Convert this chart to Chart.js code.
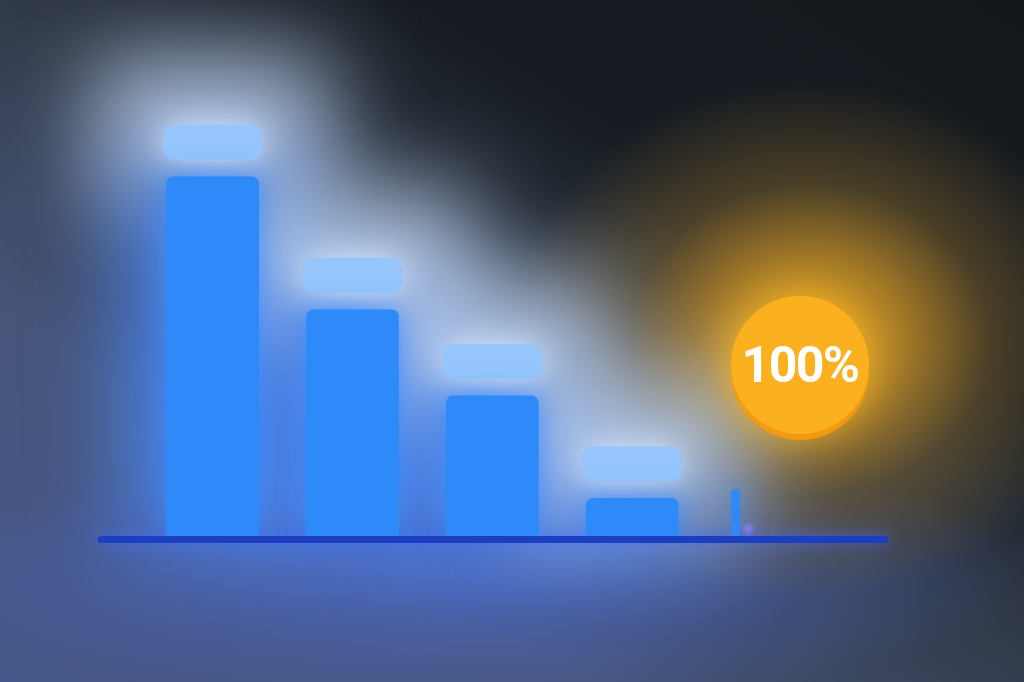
<!DOCTYPE html>
<html>
<head>
<meta charset="utf-8">
<script src="https://cdn.jsdelivr.net/npm/chart.js@4"></script>
<style>
  html, body { margin: 0; padding: 0; }
  body {
    width: 1024px;
    height: 682px;
    overflow: hidden;
    position: relative;
    background:
      radial-gradient(circle at 748px 529px, rgba(170, 100, 255, 0.9) 0, rgba(170, 100, 255, 0) 8px),
      radial-gradient(ellipse 300px 260px at 810px 340px, rgba(245, 175, 35, 0.95) 0, rgba(215, 155, 40, 0.75) 30%, rgba(150, 115, 45, 0.4) 60%, rgba(90, 80, 60, 0) 100%),
      radial-gradient(ellipse 560px 130px at 480px 575px, rgba(80, 115, 235, 0.55) 0, rgba(80, 115, 235, 0) 100%),
      linear-gradient(212deg, #13171c 0%, #181d23 30%, #333c4c 50%, #47557a 72%, #45568a 100%);
  }
  #wrap { position: absolute; left: 0; top: 0; width: 1024px; height: 682px; }
  #badge {
    position: absolute;
    left: 731px;
    top: 296px;
    width: 138px;
    height: 138px;
    border-radius: 50%;
    background: #fbb020;
    box-shadow: 0 6px 0 #f29a12, 0 0 40px rgba(255, 190, 40, 0.8);
    display: flex;
    align-items: center;
    justify-content: center;
    color: #ffffff;
    font-family: Roboto, "Noto Sans", sans-serif;
    font-weight: 700;
    font-size: 50px;
    letter-spacing: -1.5px;
  }
</style>
</head>
<body>
<div id="wrap"><canvas id="chart" width="1024" height="682"></canvas></div>
<div id="badge">100%</div>
<script>
// Bar positions along the baseline and heights (share of the tallest bar)
const stagePositions = [0, 1, 2, 3];
const stageValues = [100, 63, 39, 10.5];
const markerPosition = [3.74];
const markerValue = [13];
const badgeLabel = '100%';

document.getElementById('badge').textContent = badgeLabel;

const barBlue = '#2d8af8';
const pillBlue = '#95c5fb';
const baseBlue = '#1c3fbf';

// haze behind bars, light pills above them, rounded baseline
const glowPlugin = {
  id: 'glow',
  beforeDatasetsDraw(chart) {
    const ctx = chart.ctx;
    const meta = chart.getDatasetMeta(0);
    const area = chart.chartArea;

    ctx.save();
    ctx.filter = 'blur(45px)';
    meta.data.forEach((bar) => {
      ctx.fillStyle = 'rgba(200, 220, 250, 0.8)';
      ctx.fillRect(bar.x - bar.width / 2 - 70, bar.y - 120, bar.width + 140, 150);
      ctx.fillStyle = 'rgba(75, 140, 255, 0.85)';
      ctx.fillRect(bar.x - bar.width / 2 - 40, bar.y - 10, bar.width + 80, area.bottom - bar.y + 15);
    });
    ctx.restore();

    ctx.save();
    meta.data.forEach((bar) => {
      const w = bar.width + 8;
      ctx.shadowColor = 'rgba(225, 238, 255, 1)';
      ctx.shadowBlur = 35;
      ctx.fillStyle = pillBlue;
      ctx.beginPath();
      ctx.roundRect(bar.x - w / 2, bar.y - 52, w, 35, 12);
      ctx.fill();
    });
    ctx.restore();

    ctx.save();
    ctx.strokeStyle = baseBlue;
    ctx.lineWidth = 7;
    ctx.lineCap = 'round';
    ctx.shadowColor = 'rgba(70, 110, 255, 0.8)';
    ctx.shadowBlur = 16;
    ctx.beginPath();
    ctx.moveTo(area.left + 3, area.bottom + 3.5);
    ctx.lineTo(area.right - 3, area.bottom + 3.5);
    ctx.stroke();
    ctx.restore();

    ctx.save();
    ctx.shadowColor = 'rgba(60, 140, 255, 0.8)';
    ctx.shadowBlur = 26;
  },
  afterDatasetsDraw(chart) {
    chart.ctx.restore();
  }
};

const ctx = document.getElementById('chart').getContext('2d');
new Chart(ctx, {
  type: 'bar',
  data: {
    datasets: [
      {
        data: stagePositions.map((x, i) => ({ x: x, y: stageValues[i] })),
        backgroundColor: barBlue,
        barThickness: 92,
        borderRadius: { topLeft: 7, topRight: 7, bottomLeft: 0, bottomRight: 0 },
        borderSkipped: false,
        grouped: false
      },
      {
        data: markerPosition.map((x, i) => ({ x: x, y: markerValue[i] })),
        backgroundColor: '#2f88f6',
        barThickness: 8,
        borderRadius: { topLeft: 4, topRight: 4, bottomLeft: 0, bottomRight: 0 },
        borderSkipped: false,
        grouped: false
      }
    ]
  },
  options: {
    responsive: false,
    animation: false,
    layout: { padding: { left: 98, right: 136, top: 105, bottom: 146 } },
    plugins: {
      legend: { display: false },
      tooltip: { enabled: false }
    },
    scales: {
      x: { type: 'linear', min: -0.82, max: 4.83, offset: false, display: false },
      y: { min: 0, max: 120, display: false }
    }
  },
  plugins: [glowPlugin]
});
</script>
</body>
</html>
